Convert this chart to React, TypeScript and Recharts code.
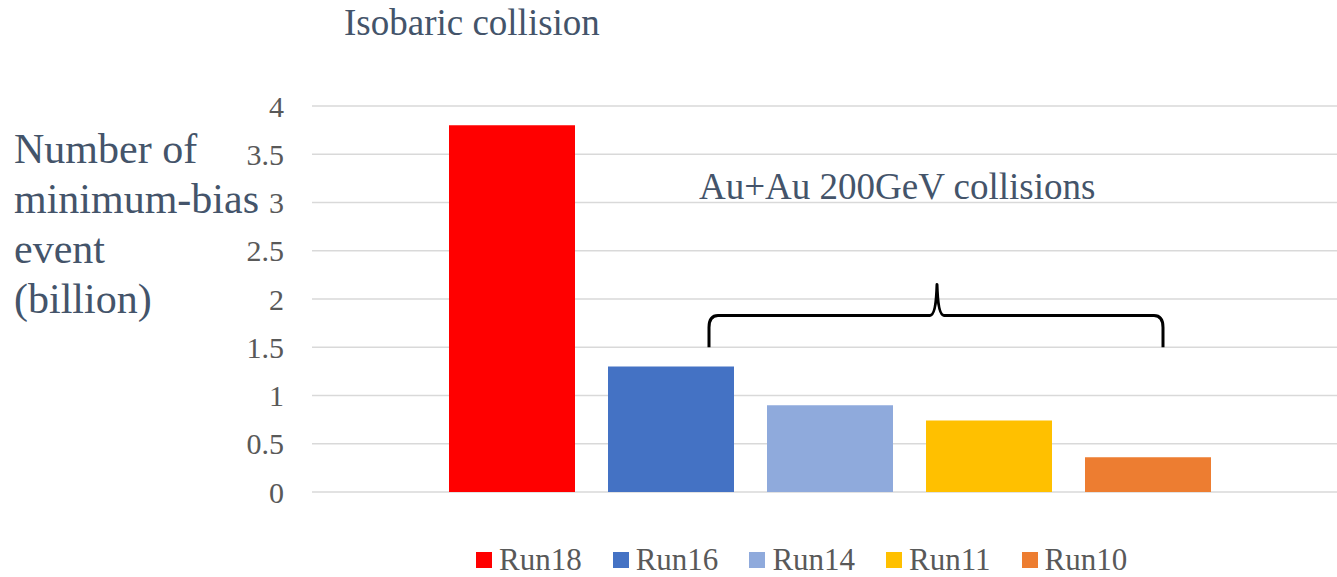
import React from 'react';
import { BarChart, Bar, XAxis, YAxis, CartesianGrid, Legend } from 'recharts';

// ---- data ----
const categories = [''];
const seriesNames = ['Run18', 'Run16', 'Run14', 'Run11', 'Run10'];
const seriesValues = [3.8, 1.3, 0.9, 0.74, 0.36];
const seriesColors = ['#FF0000', '#4472C4', '#8FAADC', '#FFC000', '#ED7D31'];
const yTicks = [0, 0.5, 1, 1.5, 2, 2.5, 3, 3.5, 4];
const titleText = 'Isobaric collision';
const yLabelLines = ['Number of', 'minimum-bias', 'event', '(billion)'];
const annotationText = 'Au+Au 200GeV collisions';
// brace annotation levels (in axis units)
const braceBottomValue = 1.5;
const braceLineValue = 1.83;
const bracePeakValue = 2.15;

const data = categories.map((c) => {
  const row: Record<string, any> = { name: c };
  seriesNames.forEach((s, i) => {
    row[s] = seriesValues[i];
  });
  return row;
});

// ---- layout ----
const FONT = "'Liberation Serif', 'Times New Roman', serif";
const CHART_W = 1360;
const CHART_H = 577;
const PLOT_LEFT = 312;
const PLOT_RIGHT = 1347;
const PLOT_TOP = 106;
const PLOT_BOTTOM = 492;
const Y_AXIS_W = 100;
const LEGEND_H = 31;
const Y_MAX = 4;

const margin = {
  top: PLOT_TOP,
  left: PLOT_LEFT - Y_AXIS_W,
  right: CHART_W - PLOT_RIGHT,
  bottom: CHART_H - PLOT_BOTTOM - LEGEND_H,
};

const yPix = (v: number) => PLOT_TOP + (PLOT_BOTTOM - PLOT_TOP) * (1 - v / Y_MAX);

const renderLegend = () => (
  <div
    style={{
      display: 'flex',
      alignItems: 'center',
      height: LEGEND_H,
      lineHeight: `${LEGEND_H}px`,
      fontSize: 31,
      fontFamily: FONT,
      color: '#595959',
      whiteSpace: 'nowrap',
    }}
  >
    {seriesNames.map((s, i) => (
      <span key={s} style={{ display: 'flex', alignItems: 'center', marginRight: 31 }}>
        <span
          style={{
            display: 'inline-block',
            width: 16,
            height: 16,
            background: seriesColors[i],
            marginRight: 7,
          }}
        />
        <span>{s}</span>
      </span>
    ))}
  </div>
);

export default function App() {
  const bx0 = 709;
  const bx1 = 1163;
  const bxm = 937;
  const yb = yPix(braceBottomValue);
  const yl = yPix(braceLineValue);
  const yp = yPix(bracePeakValue);
  const bracePath = [
    `M ${bx0} ${yb}`,
    `L ${bx0} ${yl + 12}`,
    `Q ${bx0} ${yl} ${bx0 + 9} ${yl}`,
    `L ${bxm - 7} ${yl}`,
    `Q ${bxm - 1} ${yl} ${bxm} ${yp}`,
    `Q ${bxm + 1} ${yl} ${bxm + 7} ${yl}`,
    `L ${bx1 - 9} ${yl}`,
    `Q ${bx1} ${yl} ${bx1} ${yl + 12}`,
    `L ${bx1} ${yb}`,
  ].join(' ');

  return (
    <div
      style={{
        position: 'fixed',
        left: 0,
        top: 0,
        width: 1337,
        height: 577,
        overflow: 'hidden',
        background: '#ffffff',
        fontFamily: FONT,
      }}
    >
      <BarChart
        width={CHART_W}
        height={CHART_H}
        data={data}
        margin={margin}
        barGap={33}
        barSize={126}
      >
        <CartesianGrid vertical={false} stroke="#D9D9D9" strokeWidth={1.5} />
        <XAxis dataKey="name" hide />
        <YAxis
          width={Y_AXIS_W}
          domain={[0, Y_MAX]}
          ticks={yTicks}
          interval={0}
          axisLine={false}
          tickLine={false}
          tickSize={6}
          tickMargin={22}
          tick={{ fill: '#595959', fontSize: 30, fontFamily: FONT }}
        />
        {seriesNames.map((s, i) => (
          <Bar key={s} dataKey={s} fill={seriesColors[i]} isAnimationActive={false} />
        ))}
        <Legend
          verticalAlign="bottom"
          align="left"
          wrapperStyle={{ top: 544, left: 476, bottom: 'auto', width: 800, height: LEGEND_H }}
          content={renderLegend}
        />
      </BarChart>
      <svg
        width={1337}
        height={577}
        style={{ position: 'absolute', left: 0, top: 0, pointerEvents: 'none' }}
      >
        <text x={344} y={35} fontSize={37} fill="#44546A" fontFamily={FONT}>
          {titleText}
        </text>
        {yLabelLines.map((l, i) => (
          <text key={l} x={14} y={163 + i * 50} fontSize={42} fill="#44546A" fontFamily={FONT}>
            {l}
          </text>
        ))}
        <text x={699} y={199} fontSize={37} fill="#44546A" fontFamily={FONT}>
          {annotationText}
        </text>
        <path d={bracePath} fill="none" stroke="#000000" strokeWidth={3} strokeLinejoin="round" />
      </svg>
    </div>
  );
}
